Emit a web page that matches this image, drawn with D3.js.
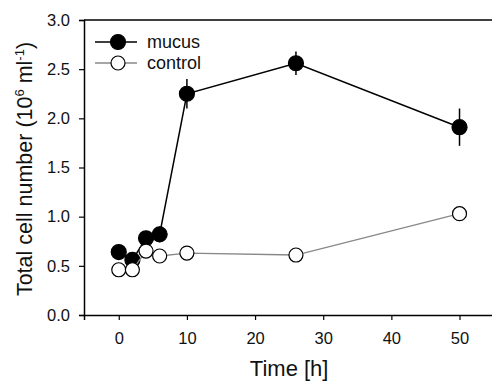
<!DOCTYPE html>
<html><head><meta charset="utf-8">
<script src="https://cdn.jsdelivr.net/npm/d3@7"></script>
<style>body{margin:0;background:#fff}svg{display:block;font-family:"Liberation Sans",Arial,sans-serif}</style>
</head><body><svg id="c" width="492" height="383"></svg>
<script>
const times = [0, 2, 4, 6, 10, 26, 50];
const mucus = [0.64, 0.56, 0.78, 0.82, 2.25, 2.56, 1.91];
const mucusErr = [0.03, 0.05, 0.05, 0.08, 0.15, 0.12, 0.19];
const control = [0.46, 0.46, 0.65, 0.60, 0.63, 0.61, 1.03];
const controlErr = [0.02, 0.02, 0.03, 0.03, 0.03, 0.03, 0.03];
const xTicks = [0, 10, 20, 30, 40, 50];
const yTicks = [0, 0.5, 1.0, 1.5, 2.0, 2.5, 3.0];

const svg = d3.select("#c");
const m = {l: 84, r: 497, t: 20, b: 315};
const x = d3.scaleLinear().domain([-5.1, 55.5]).range([m.l, m.r]);
const y = d3.scaleLinear().domain([0, 3]).range([m.b, m.t]);

// frame top line
svg.append("line").attr("x1", m.l).attr("x2", m.r).attr("y1", m.t).attr("y2", m.t)
  .attr("stroke", "#000").attr("stroke-width", 1.5);

const xa = svg.append("g").attr("transform", `translate(0,${m.b})`)
  .call(d3.axisBottom(x).tickValues(xTicks).tickSize(5).tickPadding(12).tickFormat(d3.format("d")));
const ya = svg.append("g").attr("transform", `translate(${m.l},0)`)
  .call(d3.axisLeft(y).tickValues(yTicks).tickSize(5).tickPadding(9).tickFormat(d3.format(".1f")));
[xa, ya].forEach(a => {
  a.select(".domain").attr("stroke-width", 1.5);
  a.selectAll(".tick line").attr("stroke-width", 1.2);
  a.selectAll("text").attr("font-size", 16.5).attr("fill", "#111")
    .attr("font-family", "Liberation Sans, Arial, sans-serif");
});

const line = d3.line().x(d => x(d[0])).y(d => y(d[1]));
function series(vals, errs, lineColor, fill, r, lw) {
  const pts = times.map((t, i) => [t, vals[i], errs[i]]);
  svg.append("path").datum(pts).attr("d", line).attr("fill", "none")
    .attr("stroke", lineColor).attr("stroke-width", lw);
  svg.append("g").selectAll("line").data(pts).join("line")
    .attr("x1", d => x(d[0])).attr("x2", d => x(d[0]))
    .attr("y1", d => y(d[1] - d[2])).attr("y2", d => y(d[1] + d[2]))
    .attr("stroke", "#000").attr("stroke-width", 1.5);
  svg.append("g").selectAll("circle").data(pts).join("circle")
    .attr("cx", d => x(d[0])).attr("cy", d => y(d[1])).attr("r", r)
    .attr("fill", fill).attr("stroke", "#000").attr("stroke-width", 1.2);
}
series(mucus, mucusErr, "#000", "#000", 7.5, 1.5);
series(control, controlErr, "#888", "#fff", 7, 1.3);

// legend
const leg = [["mucus", "#000", "#000"], ["control", "#888", "#fff"]];
leg.forEach((d, i) => {
  const yy = 42 + i * 21;
  svg.append("line").attr("x1", 95).attr("x2", 137).attr("y1", yy).attr("y2", yy)
    .attr("stroke", d[1]).attr("stroke-width", 1.5);
  svg.append("circle").attr("cx", 118).attr("cy", yy).attr("r", i ? 7 : 7.5)
    .attr("fill", d[2]).attr("stroke", "#000").attr("stroke-width", 1.2);
  svg.append("text").attr("x", 147).attr("y", yy + 6).attr("font-size", 18)
    .attr("fill", "#111").text(d[0]);
});

// axis titles
svg.append("text").attr("x", x(25)).attr("y", 376).attr("text-anchor", "middle")
  .attr("font-size", 22).attr("fill", "#111").text("Time [h]");
const yt = svg.append("text").attr("transform", `translate(32,169) rotate(-90)`)
  .attr("text-anchor", "middle").attr("font-size", 21.5).attr("fill", "#111");
yt.append("tspan").text("Total cell number  (10");
yt.append("tspan").attr("font-size", 13).attr("dy", -8).text("6");
yt.append("tspan").attr("dy", 8).text(" ml");
yt.append("tspan").attr("font-size", 13).attr("dy", -8).text("-1");
yt.append("tspan").attr("dy", 8).text(")");
</script></body></html>
